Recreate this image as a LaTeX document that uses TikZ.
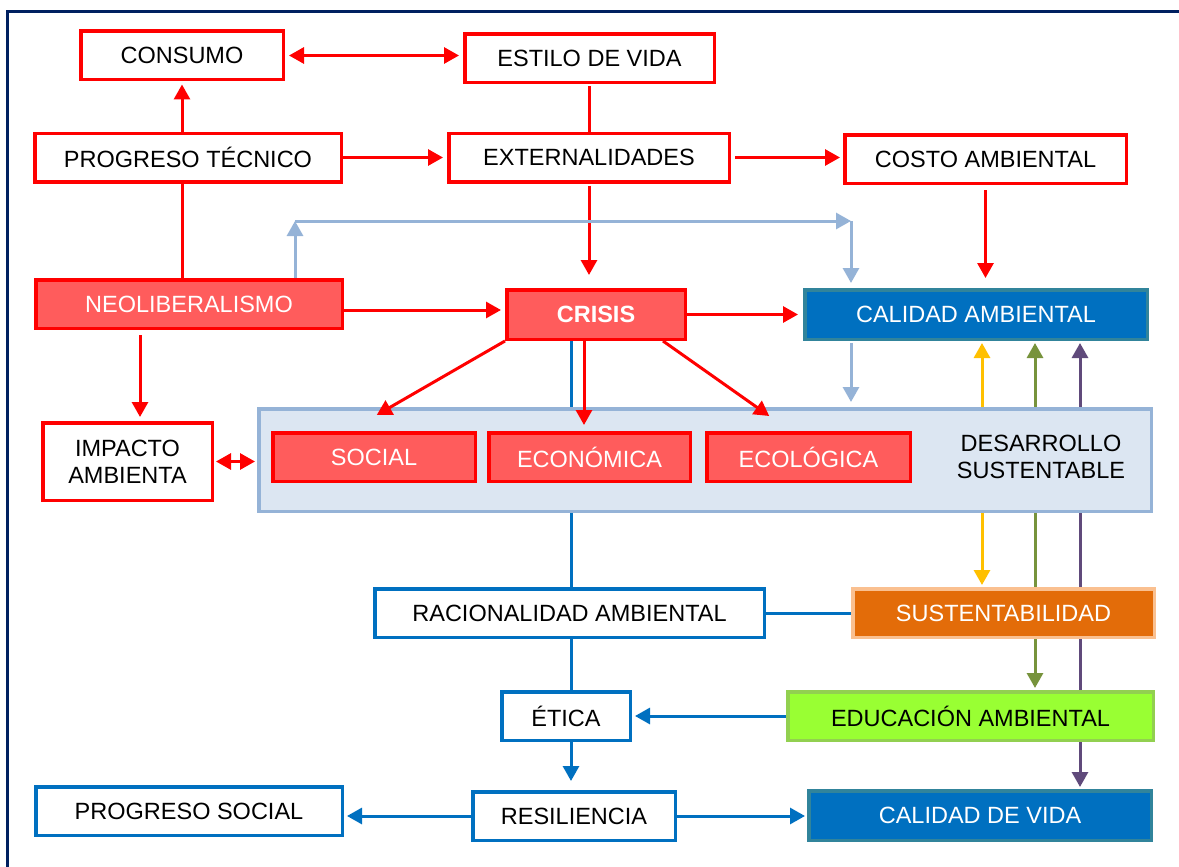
\documentclass[tikz,border=0pt]{standalone}
\usepackage{fontspec}
\setmainfont{Liberation Sans}
\usetikzlibrary{arrows.meta,backgrounds}
\definecolor{rojo}{RGB}{255,0,0}
\definecolor{rojoclaro}{RGB}{255,92,92}
\definecolor{azul}{RGB}{0,112,192}
\definecolor{azulclaro}{RGB}{149,179,215}
\definecolor{fondo}{RGB}{220,230,242}
\definecolor{verdeazul}{RGB}{49,132,155}
\definecolor{naranja}{RGB}{227,108,9}
\definecolor{naranjaclaro}{RGB}{250,192,144}
\definecolor{lima}{RGB}{153,255,51}
\definecolor{limaborde}{RGB}{146,208,80}
\definecolor{oliva}{RGB}{119,147,60}
\definecolor{morado}{RGB}{96,74,123}
\definecolor{amarillo}{RGB}{255,192,0}
\definecolor{marino}{RGB}{0,32,96}
\tikzstyle{caja}=[draw,line width=3.5pt,minimum height=48.5pt,inner sep=2pt,font=\fontsize{23.5}{27}\selectfont,align=center]
\tikzstyle{rojacaja}=[caja,draw=rojo,fill=white]
\tikzstyle{llena}=[caja,draw=rojo,fill=rojoclaro,text=white]
\tikzstyle{azulcaja}=[caja,draw=azul,fill=white]
\tikzstyle{oscura}=[caja,draw=verdeazul,fill=azul,text=white]
\tikzstyle{flecha}=[draw,line width=3pt,-{Triangle[width=16pt,length=15pt]}]
\tikzstyle{doble}=[draw,line width=3pt,{Triangle[width=16pt,length=15pt]}-{Triangle[width=16pt,length=15pt]}]
\tikzstyle{linea}=[draw,line width=3pt]

\begin{document}
\begin{tikzpicture}[x=1pt,y=-1pt]
    \useasboundingbox (0,0) rectangle (1179,867);
    \draw[marino,line width=3pt] (7.5,867) -- (7.5,12) -- (1179,12);

    % First we draw the boxes
    \foreach \pos/\name/\ancho/\txt in {{(182,55.5)/consumo/202.5/CONSUMO},{(589.5,58.5)/estilo/249.5/ESTILO DE VIDA},
        {(188,157.5)/progreso/306.5/PROGRESO TÉCNICO},{(589,157.5)/extern/280.5/EXTERNALIDADES},
        {(985.5,159)/costo/281.5/COSTO AMBIENTAL}}
        \node[rojacaja,minimum width=\ancho pt] (\name) at \pos {\txt};

    \node[llena,minimum width=306.5pt] (neolib) at (189,304) {NEOLIBERALISMO};
    \node[llena,minimum width=178.5pt,minimum height=49.5pt,font=\fontsize{23.5}{27}\selectfont\bfseries] (crisis) at (596,314.5) {CRISIS};
    \node[oscura,minimum width=342.5pt,minimum height=49.5pt] (calamb) at (976,314.5) {CALIDAD AMBIENTAL};

    \node[rojacaja,minimum width=169.5pt,minimum height=77.5pt] (impacto) at (127.5,461.5) {IMPACTO\\AMBIENTA};
    \node[caja,draw=azulclaro,fill=fondo,minimum width=892.5pt,minimum height=102.5pt] (desarrollo) at (705,460) {};
    \node[font=\fontsize{23.5}{27}\selectfont,align=center] (destxt) at (1041,457) {DESARROLLO\\SUSTENTABLE};

    \foreach \pos/\name/\ancho/\txt in {{(374,457)/social/202.5/SOCIAL},{(589.5,457)/economica/201.5/ECONÓMICA},
        {(808.5,457)/ecologica/203.5/ECOLÓGICA}}
        \node[llena,minimum width=\ancho pt] (\name) at \pos {\txt};

    \node[azulcaja,minimum width=389.5pt] (racional) at (569.5,613) {RACIONALIDAD AMBIENTAL};
    \node[caja,draw=naranjaclaro,fill=naranja,text=white,minimum width=301.5pt] (sust) at (1003.5,613) {SUSTENTABILIDAD};
    \node[azulcaja,minimum width=128.5pt] (etica) at (566,716) {ÉTICA};
    \node[caja,draw=limaborde,fill=lima,minimum width=365.5pt] (educ) at (970.5,716) {EDUCACIÓN AMBIENTAL};
    \node[azulcaja,minimum width=306.5pt] (psocial) at (189,811) {PROGRESO SOCIAL};
    \node[azulcaja,minimum width=202.5pt] (resil) at (574,816) {RESILIENCIA};
    \node[oscura,minimum width=342.5pt,minimum height=49.5pt] (caldv) at (980,815.5) {CALIDAD DE VIDA};

    % Lines that pass behind the boxes
    \begin{scope}[on background layer]
        \path[linea,azul] ([xshift=-25pt]crisis.south) -- ([xshift=-25pt]crisis.south |- etica.north);
        \path[doble,amarillo,shorten <=2pt,shorten >=2pt] ([xshift=6pt]calamb.south) -- ([xshift=6pt]calamb.south |- sust.north);
        \path[doble,oliva,shorten <=2pt,shorten >=2pt] ([xshift=59pt]calamb.south) -- ([xshift=59pt]calamb.south |- educ.north);
        \path[doble,morado,shorten <=2pt,shorten >=2pt] ([xshift=104pt]calamb.south) -- ([xshift=104pt]calamb.south |- caldv.north);
    \end{scope}

    % Connect the boxes
    \path[doble,rojo,shorten <=4pt,shorten >=4pt] (consumo.east) -- (consumo.east -| estilo.west);
    \path[flecha,rojo,shorten >=3pt] (progreso.north -| consumo.south) -- (consumo.south);
    \path[linea,rojo,shorten <=2pt] (estilo.south) -- (estilo.south |- extern.north);
    \path[flecha,rojo,shorten >=4pt] (progreso.east) -- (progreso.east -| extern.west);
    \path[flecha,rojo,shorten <=4pt,shorten >=3pt] (extern.east) -- (extern.east -| costo.west);
    \path[flecha,rojo,shorten <=2pt,shorten >=13pt] (extern.south) -- (extern.south |- crisis.north);
    \path[flecha,rojo,shorten <=5pt,shorten >=10pt] (costo.south) -- (costo.south |- calamb.north);
    \path[linea,rojo] (neolib.north -| consumo.south) -- (progreso.south -| consumo.south);
    \path[flecha,rojo,shorten >=4pt] ([yshift=-6pt]neolib.east) -- ([yshift=-6pt]neolib.east -| crisis.west);
    \path[flecha,rojo,shorten <=5pt,shorten >=4pt] ([xshift=-49pt]neolib.south) -- ([xshift=-49pt]neolib.south |- impacto.north);
    \path[doble,rojo,shorten <=2pt,shorten >=2pt] (impacto.east) -- (impacto.east -| desarrollo.west);
    \path[flecha,rojo,shorten >=5pt] (crisis.east) -- (calamb.west);
    \path[flecha,rojo,shorten >=32pt] (crisis.south west) -- ([xshift=-25pt]social.north);
    \path[flecha,rojo,shorten >=6pt] ([xshift=-12pt]crisis.south) -- ([xshift=-12pt]crisis.south |- economica.north);
    \path[flecha,rojo,shorten >=26pt] ([xshift=-24pt]crisis.south east) -- ([xshift=-18pt]ecologica.north);

    % Light blue links
    \coordinate (giro1) at (295,221);
    \coordinate (giro2) at (851,221);
    \path[flecha,azulclaro] (neolib.north -| giro1) -- (giro1);
    \path[flecha,azulclaro] (giro1) -- (giro2);
    \path[flecha,azulclaro,shorten >=5pt] (giro2) -- (giro2 |- calamb.north);
    \path[flecha,azulclaro,shorten <=2pt,shorten >=5pt] (calamb.south -| giro2) -- (giro2 |- desarrollo.north);

    % Blue links at the bottom
    \path[linea,azul] (racional.east) -- (sust.west);
    \path[flecha,azul,shorten >=9pt] ([xshift=5pt]etica.south) -- ([xshift=5pt]etica.south |- resil.north);
    \path[flecha,azul,shorten >=3pt] (educ.west) -- (etica.east);
    \path[flecha,azul,shorten >=3pt] (resil.west) -- (resil.west -| psocial.east);
    \path[flecha,azul,shorten >=2pt] (resil.east) -- (resil.east -| caldv.west);
\end{tikzpicture}
\end{document}
